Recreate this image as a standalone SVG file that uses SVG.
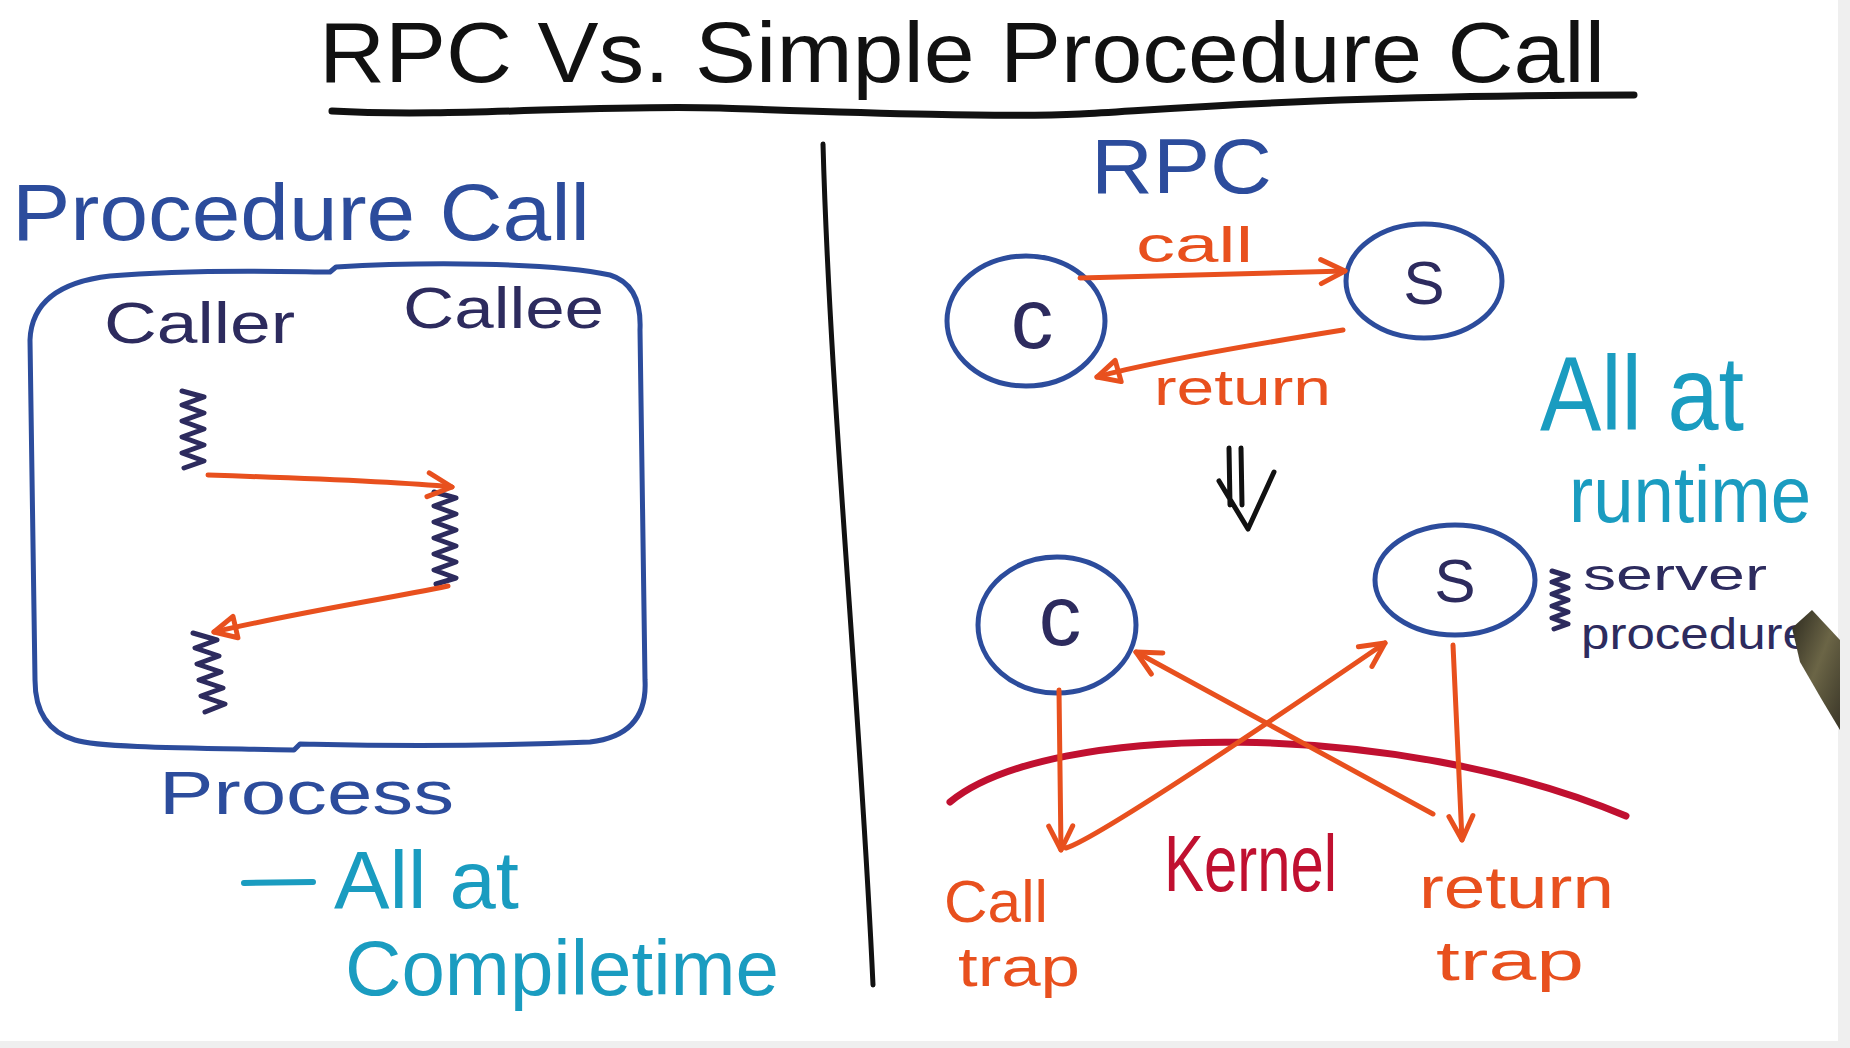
<svg xmlns="http://www.w3.org/2000/svg" width="1850" height="1048" viewBox="0 0 1850 1048">
<defs>
<style>
text{font-family:"Liberation Sans","Noto Sans","DejaVu Sans",sans-serif;}
.navy{fill:#2d2b5e;}
.blue{fill:#2c4c9c;}
.teal{fill:#1a9cc0;}
.orng{fill:#e8501e;}
.kred{fill:#c01030;}
.ln{fill:none;stroke-linecap:round;stroke-linejoin:round;}
.circ{fill:none;stroke:#2c4c9c;stroke-width:5;}
.arr{fill:none;stroke:#e8501e;stroke-width:5;stroke-linecap:round;stroke-linejoin:round;}
.sq{fill:none;stroke:#2d2b5e;stroke-width:5;stroke-linejoin:round;stroke-linecap:round;}
</style>
<marker id="v" markerUnits="userSpaceOnUse" markerWidth="34" markerHeight="34" refX="28" refY="15" orient="auto" viewBox="0 0 34 34">
<path d="M4,3 L28,15 L4,27" fill="none" stroke="#e8501e" stroke-width="5" stroke-linecap="round" stroke-linejoin="round"/>
</marker>
<marker id="tri" markerUnits="userSpaceOnUse" markerWidth="34" markerHeight="34" refX="28" refY="15" orient="auto" viewBox="0 0 34 34">
<path d="M6,4 L28,15 L6,26 Z" fill="none" stroke="#e8501e" stroke-width="5" stroke-linejoin="round"/>
</marker>
<linearGradient id="pen" x1="0" y1="0" x2="1" y2="1">
<stop offset="0" stop-color="#2e2b20"/>
<stop offset="0.5" stop-color="#6b6546"/>
<stop offset="1" stop-color="#3a3628"/>
</linearGradient>
</defs>
<rect width="1850" height="1048" fill="#ffffff"/>
<rect x="1838" y="0" width="12" height="1048" fill="#efefef"/>
<rect x="0" y="1041" width="1850" height="7" fill="#efefef"/>

<g id="title">
<text x="319" y="82" font-size="86" fill="#111" textLength="1286" lengthAdjust="spacingAndGlyphs">RPC Vs. Simple Procedure Call</text>
<path class="ln" d="M332,111 C450,118 600,104 720,108 S1000,118 1080,114 S1300,96 1634,95" stroke="#111" stroke-width="7"/>
</g>

<g id="divider">
<path class="ln" d="M823,144 C830,400 860,700 873,985" stroke="#111" stroke-width="5"/>
</g>

<g id="procedure-call">
<text x="12" y="240" font-size="80" class="blue" textLength="578" lengthAdjust="spacingAndGlyphs">Procedure Call</text>
<path class="ln" stroke="#2c4c9c" stroke-width="5" d="M110,276 C200,268 300,272 330,272 L336,267 C420,262 550,262 610,275 Q642,285 640,330 L645,680 Q648,735 590,742 C450,748 350,745 300,744 L294,750 C200,748 100,748 75,740 Q35,728 35,680 L30,340 Q32,285 110,276 Z"/>
</g>

<g id="caller">
<text x="104" y="343" font-size="58" class="navy" textLength="191" lengthAdjust="spacingAndGlyphs">Caller</text>
<path class="sq" d="M182,391 l22,6 l-22,8 l22,8 l-22,8 l22,8 l-22,8 l22,8 l-22,8 l22,8 l-20,7"/>
<path class="sq" d="M193,633 l24,7 l-22,8 l24,8 l-22,8 l24,8 l-22,8 l24,8 l-22,8 l24,8 l-20,8"/>
</g>

<g id="callee">
<text x="403" y="328" font-size="58" class="navy" textLength="201" lengthAdjust="spacingAndGlyphs">Callee</text>
<path class="sq" d="M434,492 l22,6 l-22,8 l22,8 l-22,8 l22,8 l-22,8 l22,8 l-22,8 l22,8 l-22,8 l22,8 l-20,6"/>
</g>

<g id="process-label">
<text x="159" y="814" font-size="62" class="blue" textLength="295" lengthAdjust="spacingAndGlyphs">Process</text>
<path class="ln" d="M244,883 L313,882" stroke="#1a9cc0" stroke-width="6"/>
<text x="334" y="908" font-size="82" class="teal" textLength="185" lengthAdjust="spacingAndGlyphs">All at</text>
<text x="345" y="995" font-size="78" class="teal" textLength="434" lengthAdjust="spacingAndGlyphs">Compiletime</text>
</g>

<g id="rpc-title">
<text x="1091" y="193" font-size="78" class="blue" textLength="181" lengthAdjust="spacingAndGlyphs">RPC</text>
</g>

<g id="client-top">
<ellipse class="circ" cx="1026" cy="321" rx="79" ry="65"/>
<text x="1032" y="348" font-size="85" class="navy" text-anchor="middle">c</text>
</g>
<g id="server-top">
<ellipse class="circ" cx="1424" cy="281" rx="78" ry="57"/>
<text x="1424" y="304" font-size="62" class="navy" text-anchor="middle">S</text>
</g>

<g id="runtime-label">
<text x="1540" y="430" font-size="105" class="teal" textLength="204" lengthAdjust="spacingAndGlyphs">All at</text>
<text x="1569" y="522" font-size="80" class="teal" textLength="242" lengthAdjust="spacingAndGlyphs">runtime</text>
</g>

<g id="client-bottom">
<ellipse class="circ" cx="1057" cy="625" rx="79" ry="68"/>
<text x="1060" y="645" font-size="85" class="navy" text-anchor="middle">c</text>
</g>
<g id="server-bottom">
<ellipse class="circ" cx="1455" cy="580" rx="80" ry="55"/>
<text x="1455" y="602" font-size="62" class="navy" text-anchor="middle">S</text>
<path class="sq" stroke-width="4" d="M1552,571 l16,5 l-16,6 l16,6 l-16,6 l16,6 l-16,6 l16,6 l-16,6 l16,6 l-14,5"/>
<text x="1583" y="590" font-size="45" class="navy" textLength="184" lengthAdjust="spacingAndGlyphs">server</text>
<text x="1581" y="649" font-size="45" class="navy" textLength="230" lengthAdjust="spacingAndGlyphs">procedure</text>
</g>

<g id="kernel">
<path class="ln" d="M950,802 C1050,720 1400,720 1626,816" stroke="#c01030" stroke-width="7"/>
<text x="1164" y="891" font-size="80" class="kred" textLength="173" lengthAdjust="spacingAndGlyphs">Kernel</text>
</g>

<g id="call-trap">
<text x="944" y="922" font-size="60" class="orng" textLength="104" lengthAdjust="spacingAndGlyphs">Call</text>
<text x="958" y="986" font-size="56" class="orng" textLength="122" lengthAdjust="spacingAndGlyphs">trap</text>
</g>
<g id="return-trap">
<text x="1419" y="908" font-size="60" class="orng" textLength="195" lengthAdjust="spacingAndGlyphs">return</text>
<text x="1436" y="980" font-size="56" class="orng" textLength="148" lengthAdjust="spacingAndGlyphs">trap</text>
</g>

<g id="connectors">
<path class="arr" d="M208,475 C300,478 400,482 452,487" marker-end="url(#v)"/>
<path class="arr" d="M448,586 C380,600 300,612 214,632" marker-end="url(#tri)"/>
<path class="arr" d="M1080,278 L1345,271" marker-end="url(#v)"/>
<text x="1136" y="262" font-size="50" class="orng" textLength="117" lengthAdjust="spacingAndGlyphs">call</text>
<path class="arr" d="M1343,330 C1250,345 1150,362 1097,377" marker-end="url(#tri)"/>
<text x="1154" y="405" font-size="50" class="orng" textLength="177" lengthAdjust="spacingAndGlyphs">return</text>
<path class="ln" d="M1229,448 L1230,505 M1241,448 L1242,505 M1219,481 L1248,529 L1274,472" stroke="#111" stroke-width="5"/>
<path class="arr" d="M1059,690 L1061,850" marker-end="url(#v)"/>
<path class="arr" d="M1453,645 L1462,840" marker-end="url(#v)"/>
<path class="arr" d="M1066,848 Q1100,838 1385,643" marker-end="url(#v)"/>
<path class="arr" d="M1433,814 L1136,652" marker-end="url(#v)"/>
</g>

<g id="pen">
<path d="M1792,628 L1812,610 L1840,640 L1840,730 L1822,700 L1800,662 Z" fill="url(#pen)"/>
</g>
</svg>
